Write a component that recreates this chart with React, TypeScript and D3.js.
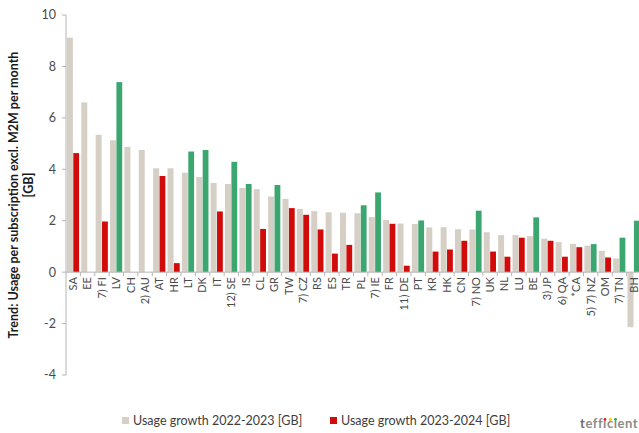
import React, { useLayoutEffect, useRef, useState } from "react";
import * as d3 from "d3";

const categories = ["SA","EE","7) FI","LV","CH","2) AU","AT","HR","LT","DK","IT","12) SE","IS","CL","GR","TW","7) CZ","RS","ES","TR","PL","7) IE","FR","11) DE","PT","KR","HK","CN","7) NO","UK","NL","LU","BE","3) JP","6) QA","*CA","5) 7) NZ","OM","7) TN","BH"];
const growth2223: number[] = [9.12,6.6,5.34,5.13,4.87,4.75,4.04,4.04,3.87,3.70,3.47,3.43,3.27,3.23,2.94,2.85,2.46,2.37,2.33,2.31,2.29,2.14,2.03,1.89,1.87,1.74,1.75,1.67,1.66,1.55,1.44,1.44,1.40,1.30,1.17,1.10,1.03,0.83,0.53,-2.14];
const growth2324: (number | null)[] = [4.63,null,1.97,7.39,null,null,3.74,0.35,4.69,4.75,2.36,4.29,3.43,1.68,3.39,2.49,2.23,1.66,0.72,1.06,2.60,3.10,1.88,0.25,2.01,0.80,0.88,1.22,2.39,0.80,0.60,1.34,2.13,1.22,0.60,0.97,1.09,0.57,1.34,2.0];
const yTicks = [-4,-2,0,2,4,6,8,10];
const legendLabels = ["Usage growth 2022-2023 [GB]", "Usage growth 2023-2024 [GB]"];

const W = 639, H = 433;
const GRAY = "#d6cfc6", RED = "#d10a0a", GREEN = "#3ba66f";
const FONT = "Lato, 'Open Sans', sans-serif";
const DOT_COLORS = ["#e2231a", "#f5c400", "#2da04a"];

export default function App() {
  const x = d3.scaleBand<string>().domain(categories).range([66, 641]).padding(0);
  const y = d3.scaleLinear().domain([-4, 10]).range([375, 15]);
  const bw = x.bandwidth();
  const y0 = y(0);

  const logoRef = useRef<SVGTextElement>(null);
  const [dots, setDots] = useState<number[]>([]);
  useLayoutEffect(() => {
    const el = logoRef.current;
    if (!el) return;
    const xs = [4, 5, 6].map((k) => {
      const ext = el.getExtentOfChar(k);
      return ext.x + ext.width / 2;
    });
    setDots(xs);
  }, []);

  return (
    <svg width={W} height={H} style={{ position: "absolute", left: 0, top: 0, background: "#fff" }} fontFamily={FONT}>
      {categories.map((c, i) => {
        const cx = (x(c) as number) + bw / 2;
        const g = growth2223[i];
        const r = growth2324[i];
        return (
          <g key={c}>
            <rect x={cx - 6.3} width={6.0} y={Math.min(y(g), y0)} height={Math.abs(y(g) - y0)} fill={GRAY} />
            {r !== null && (
              <rect x={cx + 0.1} width={5.8} y={Math.min(y(r), y0)} height={Math.abs(y(r) - y0)} fill={r > g ? GREEN : RED} />
            )}
          </g>
        );
      })}
      <line x1={66} x2={66} y1={y(10)} y2={y(-4)} stroke="#b5b5b5" strokeWidth={1} />
      {yTicks.map((t) => (
        <g key={t}>
          <line x1={62} x2={66} y1={y(t)} y2={y(t)} stroke="#b5b5b5" />
          <text x={56} y={y(t)} dy="0.35em" textAnchor="end" fontSize={12.5} fill="#4a4a4a">{t}</text>
        </g>
      ))}
      <line x1={66} x2={641} y1={y0} y2={y0} stroke="#b5b5b5" />
      {categories.map((c) => (
        <line key={"t" + c} x1={(x(c) as number) + bw} x2={(x(c) as number) + bw} y1={y0} y2={y0 + 4} stroke="#b5b5b5" />
      ))}
      {categories.map((c) => {
        const cx = (x(c) as number) + bw / 2;
        return (
          <text key={"l" + c} transform={`translate(${cx},${y0 + 5}) rotate(-90)`} textAnchor="end" dy="0.35em" fontSize={11} fill="#4a4a4a">{c}</text>
        );
      })}
      <text transform={`translate(14,195) rotate(-90)`} textAnchor="middle" dy="0.35em" fontSize={12.5} fontWeight="bold" fill="#1a1a1a">Trend: Usage per subscription excl. M2M per month</text>
      <text transform={`translate(29,185) rotate(-90)`} textAnchor="middle" dy="0.35em" fontSize={12.5} fontWeight="bold" fill="#1a1a1a">[GB]</text>
      <rect x={122} y={417} width={7} height={7} fill={GRAY} />
      <text x={133} y={425} fontSize={12.5} fill="#404040">{legendLabels[0]}</text>
      <rect x={330} y={417} width={7} height={7} fill={RED} />
      <text x={341} y={425} fontSize={12.5} fill="#404040">{legendLabels[1]}</text>
      <text ref={logoRef} x={638} y={428} textAnchor="end" fontSize={13} fontWeight="bold" fill="#8f8a85" letterSpacing={0.5}>
        <tspan fill="#6f6a66">t</tspan>effıcıent
      </text>
      {dots.map((dx, k) => (
        <circle key={k} cx={dx} cy={419.5} r={1.4} fill={DOT_COLORS[k]} />
      ))}
    </svg>
  );
}
